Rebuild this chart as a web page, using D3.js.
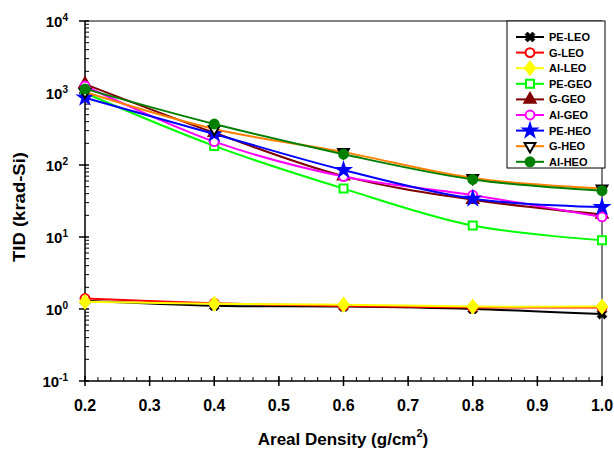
<!DOCTYPE html>
<html>
<head>
<meta charset="utf-8">
<script src="https://cdn.jsdelivr.net/npm/d3@7"></script>
<style>
  body { margin: 0; background: #fff; }
  text { font-family: "Liberation Sans", Arial, sans-serif; font-weight: bold; }
</style>
</head>
<body>
<svg id="chart" width="614" height="450"></svg>
<script>
// areal density (g/cm2)
var density = [0.2, 0.4, 0.6, 0.8, 1.0];

// TID values (krad-Si)
var peLeo = [1.30, 1.11, 1.08, 1.00, 0.85];
var gLeo  = [1.40, 1.20, 1.10, 1.05, 1.05];
var alLeo = [1.26, 1.18, 1.15, 1.08, 1.08];
var peGeo = [1000, 184, 47, 14.4, 9.0];
var gGeo  = [1330, 280, 70, 33, 20.5];
var alGeo = [1250, 211, 69, 38, 19];
var peHeo = [860, 270, 85, 34, 26];
var gHeo  = [1030, 316, 151, 66, 47];
var alHeo = [1140, 371, 141, 63, 44];

var names   = ["PE-LEO", "G-LEO", "Al-LEO", "PE-GEO", "G-GEO", "Al-GEO", "PE-HEO", "G-HEO", "Al-HEO"];
var series  = [peLeo, gLeo, alLeo, peGeo, gGeo, alGeo, peHeo, gHeo, alHeo];
var xTicks  = [0.2, 0.3, 0.4, 0.5, 0.6, 0.7, 0.8, 0.9, 1.0];
var yTicks  = [1e-1, 1e0, 1e1, 1e2, 1e3, 1e4];

// a diamond a bit wider than d3's own
var wideDiamond = {
  draw: function(ctx, size) {
    var h = Math.sqrt(size / 1.54);
    var w = h * 0.77;
    ctx.moveTo(0, -h); ctx.lineTo(w, 0); ctx.lineTo(0, h); ctx.lineTo(-w, 0); ctx.closePath();
  }
};

// styles per series: line colour, marker type, marker fill, marker stroke
var styles = [
  {c: "#000000", sym: d3.symbolCross,   size: 60, rot: 45,  fill: "#000000", stroke: "#000000"},
  {c: "#ff0000", sym: d3.symbolCircle,  size: 62, rot: 0,   fill: "#ffffff", stroke: "#ff0000"},
  {c: "#ffff00", sym: wideDiamond,      size: 65, rot: 0,   fill: "#ffff00", stroke: "#ffff00"},
  {c: "#00ff00", sym: d3.symbolSquare,  size: 64, rot: 0,   fill: "#ffffff", stroke: "#00ff00"},
  {c: "#800000", sym: d3.symbolTriangle,size: 55, rot: 0,   fill: "#800000", stroke: "#800000"},
  {c: "#ff00ff", sym: d3.symbolCircle,  size: 62, rot: 0,   fill: "#ffffff", stroke: "#ff00ff"},
  {c: "#0000ff", sym: d3.symbolStar,    size: 52, rot: 0,   fill: "#0000ff", stroke: "#0000ff"},
  {c: "#ff8000", sym: d3.symbolTriangle,size: 50, rot: 180, fill: "#ffffff", stroke: "#000000"},
  {c: "#008000", sym: d3.symbolCircle,  size: 62, rot: 0,   fill: "#008000", stroke: "#008000"}
];

var svg = d3.select("#chart");
var pLeft = 85, pRight = 602, pTop = 21, pBottom = 381;

var x = d3.scaleLinear().domain([0.2, 1.0]).range([pLeft, pRight]);
var y = d3.scaleLog().domain([0.1, 10000]).range([pBottom, pTop]);

// frame: gray top and right borders
svg.append("line").attr("x1", pLeft).attr("x2", pRight).attr("y1", pTop).attr("y2", pTop)
  .attr("stroke", "#808080").attr("stroke-width", 2);
svg.append("line").attr("x1", pRight).attr("x2", pRight).attr("y1", pTop).attr("y2", pBottom)
  .attr("stroke", "#808080").attr("stroke-width", 2);

// left axis
var yAxis = svg.append("g");
yAxis.append("line").attr("x1", pLeft).attr("x2", pLeft).attr("y1", pTop).attr("y2", pBottom)
  .attr("stroke", "#000").attr("stroke-width", 1.5);
var minorY = [];
for (var e = -1; e < 4; e++) {
  for (var m = 2; m < 10; m++) minorY.push(m * Math.pow(10, e));
}
yAxis.selectAll(".ymin").data(minorY).enter().append("line")
  .attr("x1", pLeft).attr("x2", pLeft + 4)
  .attr("y1", function(d) { return y(d); }).attr("y2", function(d) { return y(d); })
  .attr("stroke", "#000").attr("stroke-width", 1);
yAxis.selectAll(".ymaj").data(yTicks).enter().append("line")
  .attr("x1", pLeft - 6).attr("x2", pLeft + 4)
  .attr("y1", function(d) { return y(d); }).attr("y2", function(d) { return y(d); })
  .attr("stroke", "#000").attr("stroke-width", 1.5);
var yl = yAxis.selectAll(".ylab").data(yTicks).enter().append("text")
  .attr("x", 68).attr("y", function(d) { return y(d) + 6; })
  .attr("text-anchor", "end").attr("font-size", 15);
yl.append("tspan").text("10");
yl.append("tspan").attr("font-size", 10).attr("dy", -6)
  .text(function(d) { return Math.round(Math.log10(d)); });

// bottom axis
var xAxis = svg.append("g");
xAxis.append("line").attr("x1", pLeft).attr("x2", pRight).attr("y1", pBottom).attr("y2", pBottom)
  .attr("stroke", "#000").attr("stroke-width", 1.5);
var minorX = d3.range(0, 41).map(function(i) { return 0.2 + i * 0.02; });
xAxis.selectAll(".xmin").data(minorX).enter().append("line")
  .attr("x1", function(d) { return x(d); }).attr("x2", function(d) { return x(d); })
  .attr("y1", pBottom).attr("y2", pBottom - 4)
  .attr("stroke", "#000").attr("stroke-width", 1);
xAxis.selectAll(".xmaj").data(xTicks).enter().append("line")
  .attr("x1", function(d) { return x(d); }).attr("x2", function(d) { return x(d); })
  .attr("y1", pBottom + 5).attr("y2", pBottom - 5)
  .attr("stroke", "#000").attr("stroke-width", 1.5);
xAxis.selectAll(".xlab").data(xTicks).enter().append("text")
  .attr("x", function(d) { return x(d); }).attr("y", 411)
  .attr("text-anchor", "middle").attr("font-size", 16)
  .text(function(d) { return d.toFixed(1); });

// axis titles
var xt = svg.append("text").attr("x", 343).attr("y", 445)
  .attr("text-anchor", "middle").attr("font-size", 17);
xt.append("tspan").text("Areal Density (g/cm");
xt.append("tspan").attr("font-size", 11).attr("dy", -8).text("2");
xt.append("tspan").attr("dy", 8).text(")");

svg.append("text").attr("transform", "translate(25,207) rotate(-90)")
  .attr("text-anchor", "middle").attr("font-size", 16)
  .attr("textLength", 110).attr("lengthAdjust", "spacingAndGlyphs")
  .text("TID (krad-Si)");

// series lines and markers
var line = d3.line()
  .x(function(d, i) { return x(density[i]); })
  .y(function(d) { return y(d); })
  .curve(d3.curveCatmullRom);

function marker(g, st) {
  g.append("path")
    .attr("d", d3.symbol().type(st.sym).size(st.size))
    .attr("transform", "rotate(" + st.rot + ")")
    .attr("fill", st.fill).attr("stroke", st.stroke)
    .attr("stroke-width", st.sym === d3.symbolCross ? 0.8 : 2);
}

series.forEach(function(vals, k) {
  var st = styles[k];
  var g = svg.append("g");
  g.append("path").datum(vals).attr("d", line)
    .attr("fill", "none").attr("stroke", st.c).attr("stroke-width", 2);
  vals.forEach(function(v, i) {
    var mg = g.append("g").attr("transform", "translate(" + x(density[i]) + "," + y(v) + ")");
    marker(mg, st);
  });
});

// legend
var leg = svg.append("g");
leg.append("rect").attr("x", 507).attr("y", 21).attr("width", 98).attr("height", 147)
  .attr("fill", "#fff").attr("stroke", "#000").attr("stroke-width", 1);
names.forEach(function(n, k) {
  var ly = 37 + k * 15.6;
  var st = styles[k];
  leg.append("line").attr("x1", 516).attr("x2", 544).attr("y1", ly).attr("y2", ly)
    .attr("stroke", st.c).attr("stroke-width", 2);
  marker(leg.append("g").attr("transform", "translate(530," + ly + ")"), st);
  leg.append("text").attr("x", 549).attr("y", ly + 4).attr("font-size", 11).text(n);
});
</script>
</body>
</html>
